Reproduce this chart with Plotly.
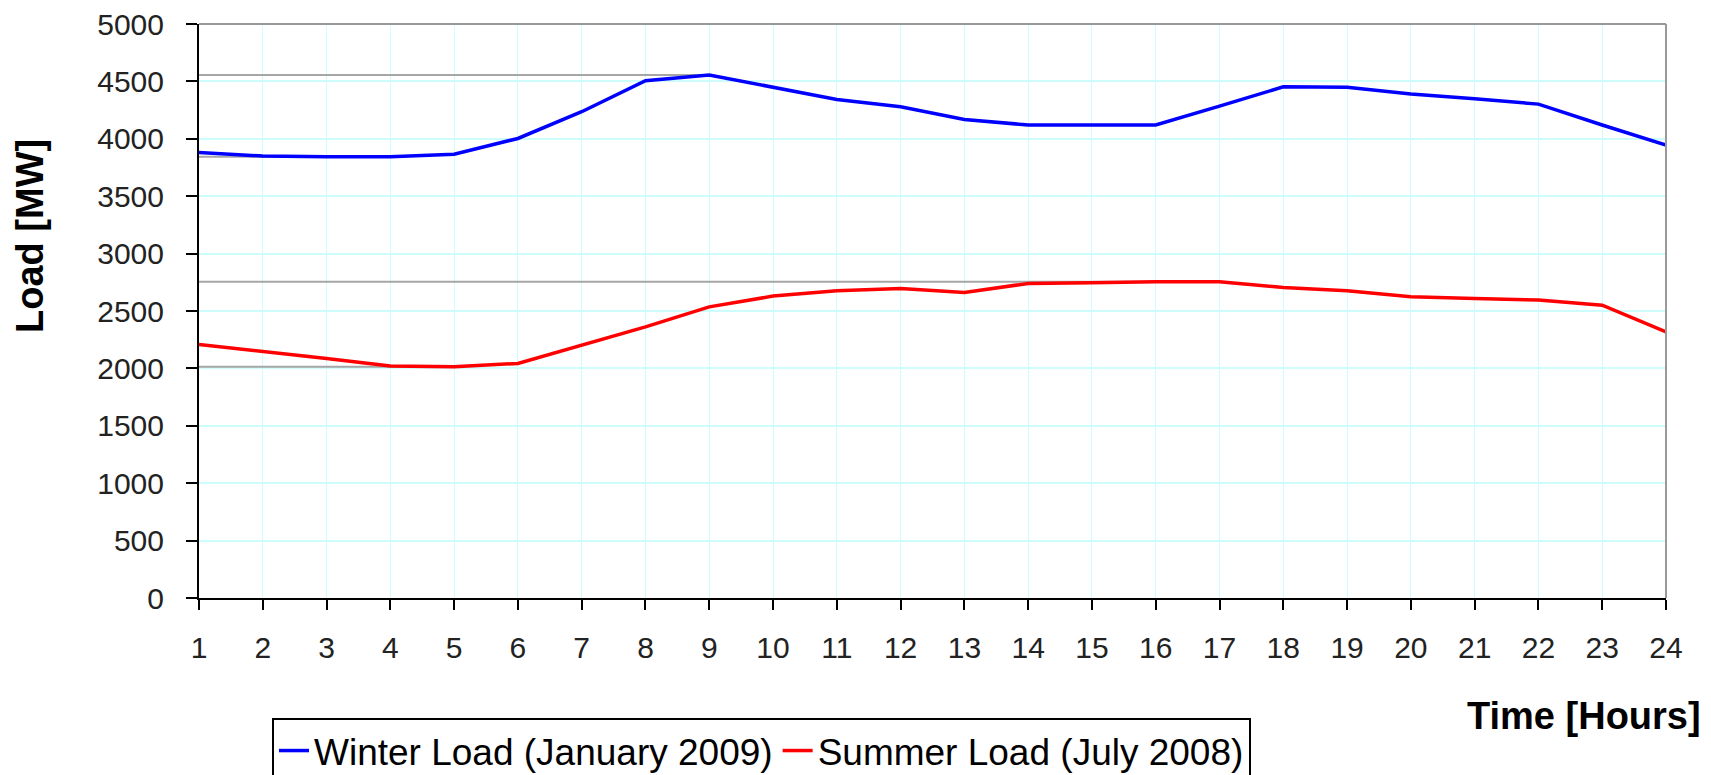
import plotly.graph_objects as go

hours = list(range(1, 25))
winter_load = [3880, 3850, 3843, 3843, 3865, 4003, 4236, 4506, 4555, 4448, 4343, 4279,
               4169, 4120, 4120, 4120, 4285, 4453, 4448, 4390, 4349, 4302, 4120, 3945]
summer_load = [2209, 2150, 2087, 2020, 2015, 2043, 2203, 2362, 2536, 2630, 2676, 2697,
               2662, 2740, 2746, 2755, 2755, 2705, 2676, 2624, 2609, 2595, 2551, 2319]
y_ticks = list(range(0, 5001, 500))
series_names = ["Winter Load (January 2009)", "Summer Load (July 2008)"]
series_colors = ["#0000ff", "#ff0000"]

FONT = "Liberation Sans, Arial, sans-serif"
OFF = 8                      # page body margin
PW, PH = 1711, 775           # page size
W, H = PW - OFF, PH - OFF    # figure size
# plot area in page pixels
PL, PR, PT, PB = 199, 1666, 24, 598
L, T = PL - OFF, PT - OFF
B = H - (PB - OFF)
R = W - (PR - OFF)

plot_w = PR - PL
plot_h = PB - PT

fig = go.Figure()
for name, vals, col in zip(series_names, [winter_load, summer_load], series_colors):
    fig.add_trace(go.Scatter(x=hours, y=vals, mode="lines", name=name,
                             line=dict(color=col, width=3.5)))

shapes = []
for vals in [winter_load, summer_load]:
    for ext in (max(vals), min(vals)):
        idx = vals.index(ext)
        shapes.append(dict(type="line", xref="x", yref="y", x0=hours[0], x1=hours[idx],
                           y0=ext, y1=ext, line=dict(color="#a6a6a6", width=2), layer="between"))
shapes.append(dict(type="line", xref="paper", yref="paper", x0=0, x1=1, y0=1, y1=1,
                   line=dict(color="#999999", width=2), layer="above"))
shapes.append(dict(type="line", xref="paper", yref="paper", x0=1, x1=1, y0=0, y1=1,
                   line=dict(color="#999999", width=2), layer="above"))

fig.update_layout(
    width=W, height=H,
    margin=dict(l=L, r=R, t=T, b=B, autoexpand=False),
    paper_bgcolor="white", plot_bgcolor="white",
    font=dict(family=FONT, color="#000000"),
    shapes=shapes,
    showlegend=True,
    legend=dict(orientation="h", xref="container", yref="container",
                x=(272 - OFF) / W, y=1 - (718 - OFF) / H, xanchor="left", yanchor="top",
                bordercolor="#000000", borderwidth=2, bgcolor="white",
                font=dict(family=FONT, size=37, color="#000000"),
                itemwidth=30, tracegroupgap=0),
    xaxis=dict(range=[1, 24], tickmode="array", tickvals=hours,
               ticktext=[str(h) for h in hours],
               showgrid=True, gridcolor="#ccfcfc", gridwidth=1,
               showline=True, linecolor="#000000", linewidth=2,
               ticks="outside", ticklen=10, tickwidth=2, tickcolor="#000000",
               tickfont=dict(size=30, family=FONT, color="#222222"),
               ticklabelstandoff=12, ticklabeloverflow="allow",
               zeroline=False, fixedrange=True),
    yaxis=dict(range=[0, 5000], tickmode="array", tickvals=y_ticks,
               showgrid=True, gridcolor="#ccfcfc", gridwidth=2,
               showline=True, linecolor="#000000", linewidth=2,
               ticks="outside", ticklen=11, tickwidth=2, tickcolor="#000000",
               tickfont=dict(size=30, family=FONT, color="#222222"),
               ticklabelstandoff=16, ticklabeloverflow="allow",
               zeroline=False, fixedrange=True),
    annotations=[
        dict(text="<b>Load [MW]</b>", textangle=-90, xref="paper", yref="paper",
             x=(30 - PL) / plot_w, y=(PB - 236) / plot_h, xanchor="center", yanchor="middle",
             showarrow=False, font=dict(size=38, family=FONT, color="#000000")),
        dict(text="<b>Time [Hours]</b>", xref="paper", yref="paper",
             x=(1703 - PL) / plot_w, y=(PB - 716) / plot_h, xanchor="right", yanchor="middle",
             showarrow=False, font=dict(size=38, family=FONT, color="#000000")),
    ],
)

fig.write_html("out.html")
